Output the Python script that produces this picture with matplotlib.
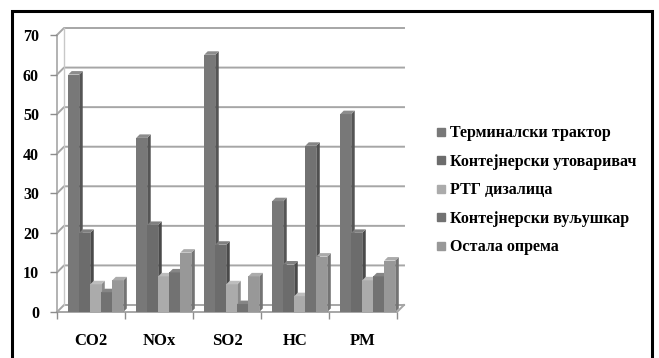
import numpy as np
import matplotlib.pyplot as plt
from matplotlib.patches import Polygon, Rectangle
from matplotlib.lines import Line2D

plt.rcParams['font.family'] = ['Liberation Serif', 'DejaVu Serif']
plt.rcParams['font.weight'] = 'bold'

# Податци
categories = ['CO2', 'NOx', 'SO2', 'HC', 'PM']
series_names = ['Терминалски трактор', 'Контејнерски утоваривач', 'РТГ дизалица',
                'Контејнерски вуљушкар', 'Остала опрема']
terminal_tractor = [60, 44, 65, 28, 50]
container_loader = [20, 22, 17, 12, 20]
rtg_crane = [7, 9, 7, 4, 8]
straddle_carrier = [5, 10, 2, 42, 9]
other_equipment = [8, 15, 9, 14, 13]
series = [terminal_tractor, container_loader, rtg_crane, straddle_carrier, other_equipment]

front_colors = ['#787878', '#6c6c6c', '#ababab', '#727272', '#989898']
side_colors = ['#555555', '#4a4a4a', '#8a8a8a', '#505050', '#747474']
top_colors = ['#8c8c8c', '#808080', '#bdbdbd', '#858585', '#ababab']

W, H = 659, 358
fig = plt.figure(figsize=(W / 100, H / 100), dpi=100)

# оски у пикселима: предња ивица x 57..397, y 312 (0) .. 35 (70)
x0, x1, y0, y1 = 57, 397, 312, 35
ax = fig.add_axes([x0 / W, 1 - y0 / H, (x1 - x0) / W, (y0 - y1) / H])
ax.set_xlim(-0.5, 4.5)
ax.set_ylim(0, 70)
for s in ax.spines.values():
    s.set_visible(False)

px_x = (x1 - x0) / 5.0     # пиксела по категорији
px_y = (y0 - y1) / 70.0    # пиксела по јединици
depth_x, depth_y = 7 / px_x, 7 / px_y   # дубина зида
bar_dx, bar_dy = 3.5 / px_x, 3.5 / px_y  # дубина стубића

grid_c = '#a6a6a6'
# задњи зид и мрежа
for v in range(0, 71, 10):
    ax.plot([-0.5, -0.5 + depth_x, 4.5 + depth_x], [v, v + depth_y, v + depth_y],
            color=grid_c, lw=1.4, clip_on=False, zorder=1)
ax.plot([-0.5 + depth_x, -0.5 + depth_x], [depth_y, 70 + depth_y], color='#c8c8c8', lw=1.0,
        clip_on=False, zorder=1)
# под
ax.plot([-0.5, 4.5, 4.5 + depth_x], [0, 0, depth_y], color=grid_c, lw=1.4, clip_on=False, zorder=1)
ax.plot([-0.5, -0.5], [0, 70], color=grid_c, lw=1.2, clip_on=False, zorder=1)

slot = 0.162
face = 0.162
x = np.arange(len(categories)) + 0.07
for i, vals in enumerate(series):
    left = x + (i - 2.5) * slot
    for xl, v in zip(left, vals):
        ax.bar(xl, v, width=face, align='edge', bottom=0, color=front_colors[i],
               edgecolor='none', zorder=3 + i, clip_on=False)
        xr = xl + face
        ax.add_patch(Polygon([(xr, 0), (xr, v), (xr + bar_dx, v + bar_dy), (xr + bar_dx, bar_dy)],
                             closed=True, facecolor=side_colors[i], edgecolor='none',
                             zorder=3 + i, clip_on=False))
        ax.add_patch(Polygon([(xl, v), (xr, v), (xr + bar_dx, v + bar_dy), (xl + bar_dx, v + bar_dy)],
                             closed=True, facecolor=top_colors[i], edgecolor='none',
                             zorder=3 + i, clip_on=False))

# тикови
ax.set_yticks(range(0, 71, 10))
ax.tick_params(axis='y', length=5, width=1.0, color='#8c8c8c', pad=8, labelsize=11.5)
ax.set_xticks(np.arange(-0.5, 5, 1.0))
ax.set_xticklabels([])
ax.tick_params(axis='x', which='major', length=5, width=1.0, color='#8c8c8c')
ax.set_xticks(np.arange(len(categories)), minor=True)
ax.set_xticklabels(categories, minor=True)
ax.tick_params(axis='x', which='minor', length=0, pad=15, labelsize=12)
for lbl in ax.get_xticklabels(minor=True) + ax.get_yticklabels():
    lbl.set_fontweight('bold')

# легенда
handles = [Line2D([], [], marker='s', linestyle='none', markersize=6, color=c) for c in front_colors]
fig.legend(handles, series_names, loc='upper left', bbox_to_anchor=(428 / W, 1 - 119 / H),
           frameon=False, prop={'weight': 'bold', 'size': 11.5}, labelspacing=0.78,
           handletextpad=0.15, handlelength=0.8, borderaxespad=0)

# оквир
fig.patches.append(Rectangle((12 / W, -0.05), 640 / W, 1.05 - 11 / H, transform=fig.transFigure,
                             fill=False, edgecolor='black', linewidth=2.2))

fig.savefig('out.png', dpi=100)
